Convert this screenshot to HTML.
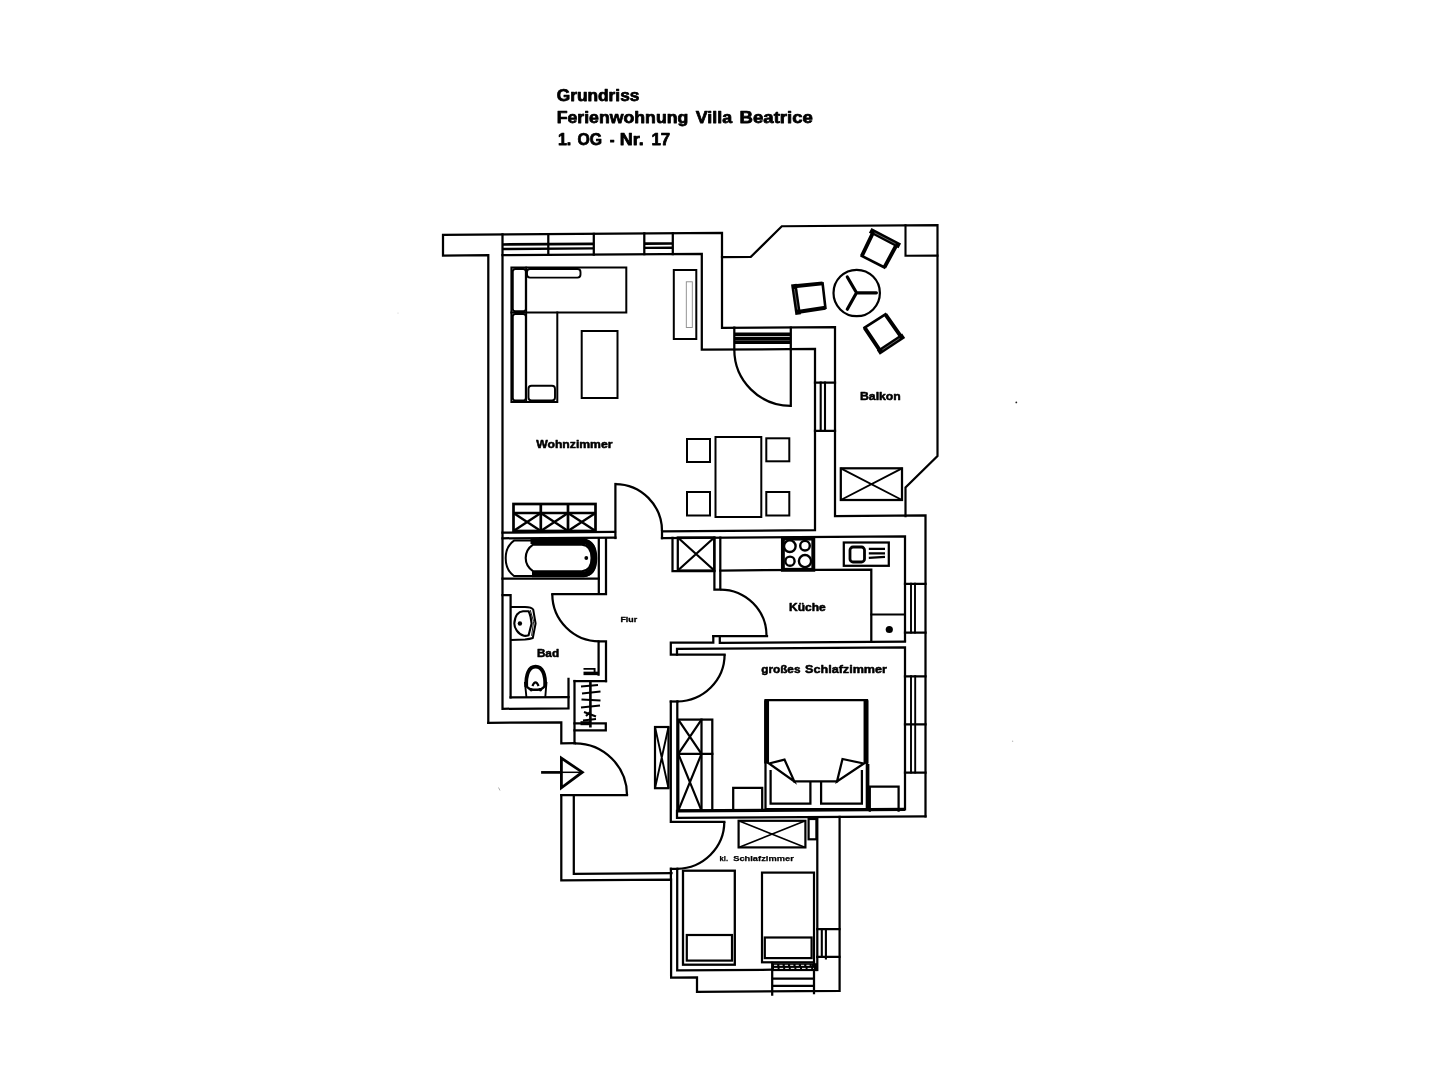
<!DOCTYPE html>
<html lang="de">
<head>
<meta charset="utf-8">
<title>Grundriss Ferienwohnung Villa Beatrice</title>
<style>
html,body{margin:0;padding:0;background:#fff;}
body{width:1440px;height:1080px;overflow:hidden;font-family:"Liberation Sans",sans-serif;}
svg{display:block;position:absolute;left:0;top:0;will-change:transform;}
.w{stroke:#000;stroke-width:2.25;fill:none;stroke-linecap:square;stroke-linejoin:miter;}
.f{stroke:#000;stroke-width:1.9;fill:none;stroke-linecap:square;stroke-linejoin:miter;}
.m{stroke:#000;stroke-width:2;fill:none;stroke-linecap:square;stroke-linejoin:miter;}
.n{stroke:#000;stroke-width:1.4;fill:none;stroke-linecap:butt;}
.k{stroke:#000;stroke-width:3;fill:none;stroke-linecap:butt;stroke-linejoin:miter;}
.g{stroke:#888;stroke-width:0.9;fill:none;}
text{font-family:"Liberation Sans",sans-serif;font-weight:bold;fill:#000;stroke:#000;stroke-width:0.5;stroke-linejoin:round;}
#title text{stroke-width:0.75;}
</style>
</head>
<body>
<svg width="1440" height="1080" viewBox="0 0 1440 1080">
<rect x="0" y="0" width="1440" height="1080" fill="#fff"/>

<!-- ===== TITLE ===== -->
<g id="title" font-size="16.4" style="stroke-width:0.75">
<text x="556.7" y="100.5" textLength="82.7" lengthAdjust="spacingAndGlyphs">Grundriss</text>
<text x="556.7" y="122.8" textLength="131.6" lengthAdjust="spacingAndGlyphs">Ferienwohnung</text>
<text x="695.8" y="122.8" textLength="36.3" lengthAdjust="spacingAndGlyphs">Villa</text>
<text x="739.6" y="122.8" textLength="73.3" lengthAdjust="spacingAndGlyphs">Beatrice</text>
<text x="557.9" y="144.7" textLength="13.4" lengthAdjust="spacingAndGlyphs">1.</text>
<text x="577.5" y="144.7" textLength="24.6" lengthAdjust="spacingAndGlyphs">OG</text>
<text x="609.8" y="144.7" textLength="4.8" lengthAdjust="spacingAndGlyphs">-</text>
<text x="619.8" y="144.7" textLength="24" lengthAdjust="spacingAndGlyphs">Nr.</text>
<text x="651.5" y="144.7" textLength="18.7" lengthAdjust="spacingAndGlyphs">17</text>
</g>

<!-- ===== ROOM LABELS ===== -->
<g id="labels">
<text x="536.2" y="447.7" font-size="10.3" textLength="76.3" lengthAdjust="spacingAndGlyphs">Wohnzimmer</text>
<text x="860" y="400.2" font-size="10.7" textLength="40.8" lengthAdjust="spacingAndGlyphs">Balkon</text>
<text x="789" y="610.7" font-size="10.3" textLength="36.7" lengthAdjust="spacingAndGlyphs">Küche</text>
<text x="536.9" y="657.2" font-size="10.4" textLength="22.2" lengthAdjust="spacingAndGlyphs">Bad</text>
<text x="620.4" y="622.4" font-size="7.4" textLength="16.7" lengthAdjust="spacingAndGlyphs" style="stroke-width:0.3">Flur</text>
<text x="761.2" y="673.2" font-size="10.7" textLength="39.3" lengthAdjust="spacingAndGlyphs">großes</text>
<text x="805" y="673.2" font-size="10.7" textLength="82" lengthAdjust="spacingAndGlyphs">Schlafzimmer</text>
<text x="719.5" y="860.6" font-size="8.1" textLength="8.5" lengthAdjust="spacingAndGlyphs" style="stroke-width:0.25">kl.</text>
<text x="733.2" y="860.6" font-size="8.1" textLength="60.6" lengthAdjust="spacingAndGlyphs" style="stroke-width:0.25">Schlafzimmer</text>
</g>

<!-- ===== OUTER WALLS ===== -->
<g id="outer" class="w">
<path d="M488.3,722.78 L488.3,255.22 L443,255.52 L443,234.77 L722,232.88 L722,327.99 L835,327.23 L835,516.2 L925.5,515.5 L925.5,816.29"/>
<path d="M488.3,722.78 L561.3,722.29 L561.3,743.3 L575,743.2"/>
<path d="M561.3,795 L561.3,880.44 L671.1,879.69 L671.1,977.6 L697,977.4 L697,991.9 L839.6,990.93 L839.6,816.88"/>
</g>

<!-- ===== INNER WALLS ===== -->
<g id="inner" class="w">
<!-- living room -->
<path d="M502.5,234.37 L502.5,708.79 L568.5,708.34 L568.5,678.8"/>
<path d="M502.5,255.12 L701.8,253.76 L701.8,349.7 L815,348.93 L815,530.24 L662,531.28 L662,538.03"/>
<path d="M502.5,532.64 L615,531.88 M502.5,538.29 L615.4,537.52"/>
<!-- bath right wall -->
<path d="M598.8,538 V594 M606,538 V594 H552.3"/>
<path d="M502.5,578.5 H598.8"/>
<!-- kitchen top / flur -->
<path d="M662,538.03 L905,536.38 L905,640.4399999999999"/>
<path d="M672.5,537.9 V571 H714.4"/>
<path d="M714.4,537.6 V589.5 H720.3 V537.6"/>
<!-- kitchen bottom wall -->
<path d="M713.3,636.2 V642.6 H670.8 V654.6 H724.6"/>
<path d="M719.8,637 L719.8,642.9 L905,641.64"/>
<path d="M677,654.6 L677,648.91 L905,647.36 L905,809.34"/>
<!-- flur right wall lower part -->
<path d="M670.8,701.5 V821.8 H724.3"/>
<path d="M677,810.89 L677,817.99 L925.5,816.29"/>
<path d="M670.9,868.5 L670.9,879.69 M670.8,868.8 H677.2"/>
<path class="k" d="M677.3,810.89 L905,809.34" style="stroke-width:3.3"/>
<path d="M677.3,701.5 V811"/>
<path d="M670.8,701.5 H677.3"/>
<!-- flur lower inner -->
<path d="M573.8,797 L573.8,873.75 L671.5,873.09"/>
</g>

<!-- ===== DOORS ===== -->
<g id="doors" class="w" style="stroke-linecap:butt">
<!-- living -> flur -->
<path class="w" d="M615.4,484 V538"/>
<path d="M615.4,484 A46.8,47 0 0 1 662,531"/>
<!-- bath -->
<path d="M552.3,594 A47.2,47.3 0 0 0 599.5,641.3"/>
<path class="w" d="M598.6,674.5 V641.3 H606 V681"/>
<!-- kitchen -->
<path class="w" d="M713.3,636.2 H767"/>
<path d="M720.3,589.5 A46.2,46 0 0 1 766.5,635.5"/>
<!-- big bedroom -->
<path d="M724.6,654.6 A48,46.9 0 0 1 677.3,701.5"/>
<!-- small bedroom -->
<path d="M724.3,821.8 A48,47 0 0 1 677.2,868.8"/>
<!-- entrance -->
<path class="w" d="M561.3,795 H627"/>
<path d="M627,795 A52,51.7 0 0 0 575,743.3"/>
<!-- balcony door -->
<path class="w" d="M790.8,349 V405.9"/>
<path d="M734.3,349.5 A56.5,56.4 0 0 0 790.8,405.9"/>
</g>

<!-- ===== WINDOWS ===== -->
<g id="windows">
<path class="w" d="M548.3,234 V254.8 M593.8,233.8 V254.5 M644.3,233.4 V254.2 M672.8,233.2 V254"/>
<path class="w" d="M502.5,244.5 L593.8,243.9 M644.3,243.7 L672.8,243.5" style="stroke-linecap:butt;stroke-width:2.7"/>
<path class="w" d="M502.5,249 L593.8,248.4 M644.3,247.9 L672.8,247.7" style="stroke-linecap:butt;stroke-width:2.4"/>
<!-- balcony door frame -->
<path class="w" d="M734.3,327.5 V349 M790.8,327.5 V349"/>
<path class="k" d="M734.3,334.3 H790.8 M734.3,338.4 H790.8 M734.3,342.3 H790.8" style="stroke-width:3.5"/>
<!-- living right window -->
<path class="w" d="M815,382.6 H835 M815,430.8 H835"/>
<path class="f" d="M820.7,382.5 V431 M825,382.5 V431" style="stroke-width:2.1"/>
<!-- kitchen window -->
<path class="w" d="M905,583.8 H925.5 M905,632.5 H925.5"/>
<path class="f" d="M911,583.8 V632.5 M915,583.8 V632.5"/>
<!-- bedroom window -->
<path class="w" d="M905,676.3 H925.5 M905,724.3 H925.5 M905,772.5 H925.5"/>
<path class="f" d="M911,676.3 V772.5 M915.2,676.3 V772.5"/>
<!-- small bedroom right window -->
<path class="w" d="M817.3,929 H839.5 M817.3,956.8 H839.5"/>
<path class="f" d="M821.8,929 V956.8 M825.9,929 V958.5" style="stroke-width:2.1"/>
</g>

<!-- ===== BALCONY ===== -->
<g id="balcony">
<path class="w" d="M722,257.1 L750.8,256.9 L781.8,226.26 L937.5,225.21 L937.5,456 L905.5,487.5 L905.5,516.08" style="stroke-width:2.2"/>
<path class="w" d="M905.5,225.42 L905.5,255.8 L937.5,255.6" style="stroke-width:2.1"/>
<circle class="f" cx="856.7" cy="293" r="23.2" style="stroke-width:2.2"/>
<path class="k" d="M856.5,292.8 H876.4 M856.5,292.8 L847.3,277 M856.5,292.8 L847.3,309.2" style="stroke-width:3.2;stroke-linecap:round"/>
<!-- chairs -->
<!-- chair 1 (back on top) -->
<path class="w" d="M861.8,256 L884.4,267.4" style="stroke-width:2.6"/>
<path class="k" d="M873.6,231.5 L861.8,256 M897,244 L884.4,267.4" style="stroke-width:3.9;stroke-linecap:butt"/>
<path class="k" d="M872.6,231.6 L897.4,244.6" style="stroke-width:5.4;stroke-linecap:square"/>
<path d="M874.5,232.8 L895.6,243.8" stroke="#777" fill="none" style="stroke-width:0.8"/>
<!-- chair 2 (back on left) -->
<path class="w" d="M822.6,283.4 L825.4,307.8" style="stroke-width:2.6"/>
<path class="k" d="M794.5,286.3 L822.6,283.4 M797.5,312 L825.4,307.8" style="stroke-width:3.9;stroke-linecap:butt"/>
<path class="k" d="M794.2,286.8 L797.8,311.8" style="stroke-width:5.6;stroke-linecap:square"/>
<path d="M794.4,289 L797.6,309.6" stroke="#777" fill="none" style="stroke-width:0.8"/>
<!-- chair 3 (back on bottom-right) -->
<path class="w" d="M864.6,327.6 L885.4,314.4" style="stroke-width:2.6"/>
<path class="k" d="M864.6,327.6 L880.2,350.8 M885.4,314.4 L901.2,336.8" style="stroke-width:3.9;stroke-linecap:butt"/>
<path class="k" d="M880.6,351 L901.4,337.2" style="stroke-width:5.4;stroke-linecap:square"/>
<path d="M882.4,349.8 L899.6,338.4" stroke="#777" fill="none" style="stroke-width:0.8"/>
<!-- box X -->
<rect class="w" x="840.8" y="468.3" width="61.2" height="31.7"/>
<path class="f" d="M840.8,468.3 L902,500 M902,468.3 L840.8,500" style="stroke-linecap:butt"/>
</g>

<!-- ===== LIVING ROOM FURNITURE ===== -->
<g id="living">
<!-- sofa -->
<path class="m" d="M511.4,267.6 H626.3 V312.5 H511.4 Z"/>
<path class="m" d="M511.4,312.5 V402 H557.3 V312.5"/>
<path class="f" d="M526.2,267.6 V402"/>
<rect class="f" x="512.8" y="269" width="13" height="42.3" rx="2.5"/>
<rect class="f" x="527" y="269" width="53.5" height="8.6" rx="3"/>
<rect class="f" x="512.8" y="314" width="13" height="86.5" rx="2.5"/>
<rect class="f" x="528.5" y="385.8" width="26.5" height="14.7" rx="3"/>
<!-- coffee table -->
<rect class="m" x="581.7" y="331" width="35.8" height="67"/>
<!-- tv cabinet -->
<rect class="m" x="673.8" y="270" width="22.5" height="69"/>
<rect class="g" x="686.3" y="281.8" width="6" height="45.7"/>
<!-- dining -->
<rect class="m" x="715.5" y="437" width="45.8" height="80"/>
<rect class="m" x="687" y="439" width="23" height="23"/>
<rect class="m" x="687" y="492" width="23" height="23.5"/>
<rect class="m" x="766.3" y="438.3" width="23" height="23"/>
<rect class="m" x="766.3" y="492" width="23" height="23.5"/>
<!-- dresser -->
<rect class="k" x="513.5" y="504" width="82" height="27" style="stroke-width:2.7"/>
<path class="k" d="M513.5,513 H595.5 M540.8,504 V531 M568,504 V531" style="stroke-width:2.7"/>
<path class="m" style="stroke-width:2.4;stroke-linecap:butt" d="M513.5,513 L540.8,531 M540.8,513 L513.5,531 M540.8,513 L568,531 M568,513 L540.8,531 M568,513 L595.5,531 M595.5,513 L568,531"/>
</g>

<!-- ===== BATH ===== -->
<g id="bath">
<path class="w" d="M510.6,697.4 V595 H502.5"/>
<path class="w" d="M510.6,697.43 L568.5,697.04"/>
<!-- tub -->
<path class="w" d="M514,540.6 H584 Q596.3,541.5 596.3,558.3 Q596.3,575 584,576 H514 Q505.7,570 505.7,558.3 Q505.7,546.5 514,540.6 Z" style="stroke-width:2;stroke-linejoin:round"/>
<path class="k" d="M530.5,541.3 H583.5 Q594,542.4 594,558.2 Q594,573.4 583.5,574.4 H532" style="stroke-width:5.6;stroke-linecap:butt"/>
<path class="w" d="M533,544.6 H582 Q591.6,545.6 591.6,558 Q591.6,570.2 582,571.2 H533 Q525.7,566 525.7,558 Q525.7,549.6 533,544.6 Z" style="stroke-width:2.1;stroke-linejoin:round"/>
<circle cx="586.3" cy="558" r="1.9" fill="#000"/>
<!-- sink -->
<path class="w" d="M511,607 H525 Q531.5,607.2 533.2,609.5 L535.6,623.5 L532.8,638 Q530,639 525,639.4 L511,639.9" style="stroke-width:2;stroke-linecap:butt;stroke-linejoin:round"/>
<path class="n" d="M530.2,610 L533.6,621.5 L531.6,635.8" style="stroke-width:0.9"/>
<path class="w" d="M514.3,623.5 Q514.8,617.5 517,614.5 Q519.5,611.5 523,611.2 L528.6,611.2 Q530,614 530.6,617 L531.6,623.5 L528.6,635.2 Q526,636.2 523.9,635.8 Q519.5,634.6 516.8,630.7 Q514.3,627 514.3,623.5 Z" style="stroke-width:2.1;stroke-linejoin:round"/>
<circle cx="519.9" cy="623.5" r="2.2" fill="#000"/>
<!-- toilet -->
<path class="f" d="M524.9,682 L526.4,697 M546.5,682 L545.3,697" style="stroke-width:1.9;stroke-linecap:butt"/>
<path class="k" d="M526.3,686.8 C525.6,674 529,666.6 535.6,666.6 C542.2,666.6 545.8,674 545.1,686.8" style="stroke-width:3.7"/>
<path class="k" d="M526.2,686 Q530,690.6 535.6,689.6 Q541,690.6 545.2,686" style="stroke-width:2.4"/>
<path class="f" d="M532.4,686 Q535.5,678.6 538.6,686" style="stroke-width:2.2;stroke-linecap:butt"/>
<circle cx="531.2" cy="689.8" r="1.7" fill="#000"/>
<circle cx="540.4" cy="689.8" r="1.7" fill="#000"/>
<!-- towel rack -->
<path class="f" d="M583.5,668.9 H594.6 V673" style="stroke-linecap:butt"/>
<path class="k" d="M583.5,673.4 H598.8" style="stroke-width:3.5"/>
</g>

<!-- ===== FLUR ===== -->
<g id="flur">
<!-- coat rack -->
<path class="w" d="M574.5,681 H606"/>
<path class="w" d="M574.5,681 V743.3"/>
<path class="w" d="M574.5,723.3 H605.8 V730.3 H574.5"/>
<path class="k" d="M590.4,682 V727.5" style="stroke-width:2.6"/>
<path class="w" style="stroke-width:2.1;stroke-linecap:butt" d="M581,686.5 L598,685 M582,693.5 L600.5,691.5 M581.5,699.5 L600.5,700.5 M581,707.5 L600,705.5 M584,712 L596,716.5 M583,720.5 L596,719 M586,716 L590,712"/>
<path class="k" d="M580.5,723.2 H590.5" style="stroke-width:4"/>
<!-- narrow X box -->
<rect class="w" x="655" y="727" width="13.5" height="61.2" style="stroke-width:2.2"/>
<path class="f" d="M655,727 L668.5,788.2 M668.5,727 L655,788.2" style="stroke-linecap:butt"/>
<!-- entrance arrow -->
<path class="k" d="M541.1,772.4 H561" style="stroke-width:2.7"/>
<path class="f" d="M561,772.3 H582" style="stroke-width:1.5;stroke-linecap:butt"/>
<path class="k" d="M561.4,758.2 V787.8 L582.3,772.2 Z" style="stroke-width:2.8;stroke-linejoin:miter"/>
</g>

<!-- ===== KITCHEN ===== -->
<g id="kitchen">
<!-- X box in flur -->
<rect class="w" x="677.8" y="537.5" width="36.5" height="33"/>
<path class="w" d="M677.8,537.5 L714.3,570.5 M714.3,537.5 L677.8,570.5" style="stroke-linecap:butt"/>
<!-- counter -->
<path class="w" d="M720.3,570.53 L871.3,569.51 L871.3,641.87"/>
<path class="f" d="M871.3,614.5 H905"/>
<circle cx="889.3" cy="629.5" r="3.6" fill="#000"/>
<!-- stove -->
<rect class="k" x="782.9" y="538.6" width="30.4" height="31.2" style="stroke-width:3.9"/>
<circle class="w" cx="789.8" cy="546.2" r="5.8" style="stroke-width:2.4"/>
<circle class="w" cx="805" cy="545.7" r="4.8" style="stroke-width:2.4"/>
<circle class="w" cx="790" cy="561.2" r="4.6" style="stroke-width:2.4"/>
<circle class="w" cx="805" cy="561.1" r="6.1" style="stroke-width:2.4"/>
<!-- sink -->
<rect class="w" x="843.8" y="542.5" width="45" height="23.3"/>
<rect class="k" x="850" y="547" width="14.5" height="15" rx="3" style="stroke-width:2.8"/>
<path class="w" d="M868.8,548.8 H885 M868.8,553.3 H885 M868.8,557.8 L885,556.8" style="stroke-width:2.2;stroke-linecap:butt"/>
</g>

<!-- ===== BIG BEDROOM ===== -->
<g id="bedroom">
<!-- wardrobe -->
<rect class="w" x="678.3" y="719.6" width="34" height="91"/>
<path class="w" d="M701.5,719.6 V810.6 M678.3,753.8 H712.3"/>
<path class="w" style="stroke-width:2.2;stroke-linecap:butt" d="M678.3,719.6 L701.5,753.8 M701.5,719.6 L678.3,753.8 M678.3,753.8 L701.5,810.6 M701.5,753.8 L678.3,810.6"/>
<!-- nightstands -->
<path class="w" d="M733.2,810.6 V787.8 H762.2 V810.6"/>
<path class="w" d="M869.8,810.6 V786.7 H898.6 V810.6"/>
<!-- bed -->
<path class="w" d="M765.5,809 V700.2 H867 V809 Z"/>
<path class="k" d="M766.6,700.2 V763.5 M866,700.2 V763.5" style="stroke-width:4.9"/>
<path class="w" d="M769,763.5 L784.5,759.6 L794.3,781.4 Z"/>
<path class="w" d="M863.9,763.5 L842.5,759 L837,781.4 Z"/>
<path class="w" d="M794.3,781.4 H837"/>
<path class="k" d="M867.6,764 V809" style="stroke-width:3.6"/>
<path class="w" d="M770.6,771 V803.7 H810.4 V783"/>
<path class="w" d="M861.9,771 V803.7 H821.1 V783"/>
</g>

<!-- ===== SMALL BEDROOM ===== -->
<g id="smallbed">
<path class="w" d="M677.2,868.8 L677.2,970.4 L772.2,969.75"/>
<path class="w" d="M817.3,817.9 V970"/>
<rect class="w" x="738.6" y="820.8" width="66.8" height="26.6" style="stroke-width:2.2"/>
<path class="f" d="M738.6,820.8 L805.4,847.4 M805.4,820.8 L738.6,847.4" style="stroke-linecap:butt;stroke-width:1.6"/>
<rect class="w" x="808.6" y="819" width="7.8" height="20.3" style="stroke-width:2.2"/>
<!-- beds -->
<rect class="w" x="683" y="870.7" width="51.8" height="94" style="stroke-width:2.3"/>
<rect class="w" x="686.8" y="935" width="45.2" height="25.6" style="stroke-width:2.2"/>
<rect class="w" x="762" y="872.6" width="52" height="89.7" style="stroke-width:2.2"/>
<rect class="w" x="764.8" y="937.5" width="46.8" height="20.6" style="stroke-width:2.2"/>
<!-- bottom window -->
<path class="w" d="M772.2,962.8 V994.5 M814,962.5 V993"/>
<rect x="772.2" y="963.2" width="45" height="7.9" fill="#000"/>
<path d="M774,965.3 H812" stroke="#fff" fill="none" style="stroke-width:1;stroke-dasharray:3.2 2.2"/>
<path d="M774,968.4 H814" stroke="#fff" fill="none" style="stroke-width:1;stroke-dasharray:3.6 2"/>
<path class="w" d="M772.2,978.5 H814 M772.2,985.9 H814" style="stroke-linecap:butt"/>
</g>

<!-- scan specks -->
<g id="specks">
<circle cx="1016.3" cy="402.4" r="0.9" fill="#222"/>
<circle cx="1012.6" cy="741.2" r="0.7" fill="#bbb"/>
<path d="M498.5,787.5 L500,790.5" stroke="#999" fill="none" style="stroke-width:0.8"/>
<circle cx="398" cy="313" r="0.6" fill="#ccc"/>
</g>
</svg>
</body>
</html>
